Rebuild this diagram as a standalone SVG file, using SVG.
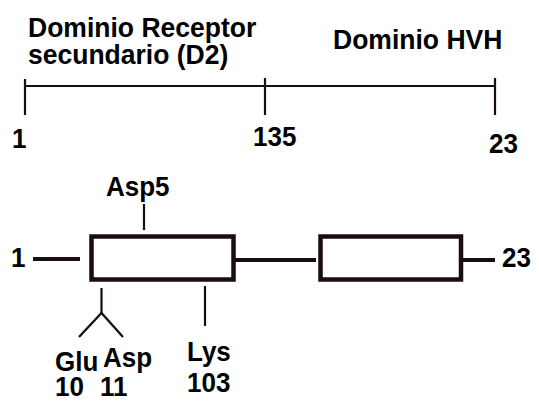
<svg xmlns="http://www.w3.org/2000/svg" width="539" height="401" viewBox="0 0 539 401">
<style>
text{font-family:"Liberation Sans",Arial,sans-serif;font-weight:bold;font-size:26px;fill:#000}
.ln{stroke:#1a0d0d;fill:none;stroke-linecap:butt}
.thin{stroke-width:2.2}
.thick{stroke-width:4}
.box{fill:#fff;stroke:#1a0d0d;stroke-width:4.5}
</style>
<rect width="539" height="401" fill="#fff"/>
<g id="connectors">
<line class="ln thin" x1="25" y1="86" x2="495" y2="86"/>
<line class="ln thin" x1="25" y1="79" x2="25" y2="115"/>
<line class="ln thin" x1="265" y1="78" x2="265" y2="115"/>
<line class="ln thin" x1="495" y1="78" x2="495" y2="115"/>
<line class="ln thick" x1="33" y1="259" x2="80" y2="259"/>
<line class="ln thick" x1="229" y1="260" x2="316" y2="260"/>
<line class="ln thick" x1="463" y1="260" x2="495" y2="260"/>
<line class="ln thin" x1="144" y1="204" x2="144" y2="230"/>
<line class="ln thin" x1="101.5" y1="288" x2="101.5" y2="313"/>
<polyline class="ln thin" points="79,337 101.5,313 123,337"/>
<line class="ln thin" x1="205" y1="286" x2="205" y2="326"/>
</g>
<g id="domain-d2">
<text transform="translate(28,37) scale(1.02,1.08)">Dominio Receptor</text>
<text transform="translate(28,64) scale(1.02,1.08)">secundario (D2)</text>
</g>
<g id="domain-hvh"><text transform="translate(333,49) scale(1.02,1.08)">Dominio HVH</text></g>
<g id="pos-1"><text transform="translate(12,148) scale(1,1.08)">1</text></g>
<g id="pos-135"><text transform="translate(253,146) scale(1,1.08)">135</text></g>
<g id="pos-23"><text transform="translate(489,153) scale(1,1.08)">23</text></g>
<g id="box1"><rect class="box" x="91.5" y="236.5" width="142" height="43"/></g>
<g id="box2"><rect class="box" x="320.5" y="236.5" width="140.5" height="43"/></g>
<g id="n-term"><text transform="translate(11,267) scale(1,1.08)">1</text></g>
<g id="c-term"><text transform="translate(502,267) scale(1,1.08)">23</text></g>
<g id="asp5"><text transform="translate(106,196) scale(1,1.08)">Asp5</text></g>
<g id="glu10"><text transform="translate(55,371) scale(1,1.08)">Glu</text><text transform="translate(55,396) scale(1,1.08)">10</text></g>
<g id="asp11"><text transform="translate(103,367) scale(1,1.08)">Asp</text><text transform="translate(100,396) scale(1,1.08)">11</text></g>
<g id="lys103"><text transform="translate(187,361) scale(1,1.08)">Lys</text><text transform="translate(187,392) scale(1,1.08)">103</text></g>
</svg>
